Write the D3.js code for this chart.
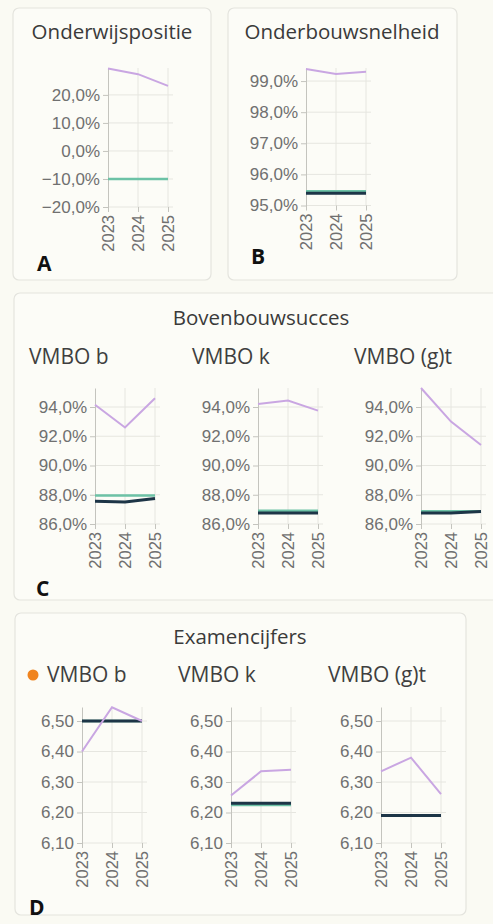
<!DOCTYPE html>
<html>
<head>
<meta charset="utf-8">
<script src="https://cdn.jsdelivr.net/npm/d3@7"></script>
<style>
  html, body { margin: 0; padding: 0; background: #fafaf3; }
  svg { display: block; }
  .card { fill: #fcfcf7; stroke: #e4e4de; stroke-width: 1.2; }
  .title { font-family: "Open Sans", sans-serif; font-size: 20.5px; fill: #3a3a3a; }
  .sub { font-family: "Open Sans", sans-serif; font-size: 21px; fill: #3f3f3f; }
  .letter { font-family: "Open Sans", sans-serif; font-weight: bold; font-size: 21px; fill: #111; }
  .tick text { font-family: "Liberation Sans", Arial, sans-serif; fill: #707070; }
  .grid line { stroke: #e6e6e0; stroke-width: 1; }
</style>
</head>
<body>
<svg id="chart" width="493" height="924"></svg>
<script>
const years = ["2023", "2024", "2025"];

// A - Onderwijspositie (%)
const posSchool = [29.4, 27.4, 23.2];
const posNorm = [-10, -10, -10];
const posTicks = [-20, -10, 0, 10, 20];

// B - Onderbouwsnelheid (%)
const obSchool = [99.39, 99.23, 99.30];
const obBench = [95.46, 95.46, 95.46];
const obNorm = [95.39, 95.39, 95.39];
const obTicks = [95, 96, 97, 98, 99];

// C - Bovenbouwsucces (%)
const bbGroups = ["VMBO b", "VMBO k", "VMBO (g)t"];
const bbSchool = [[94.15, 92.6, 94.6], [94.2, 94.45, 93.75], [95.3, 93.0, 91.4]];
const bbBench = [[87.95, 87.95, 87.95], [86.9, 86.9, 86.9], [86.88, 86.88, 86.88]];
const bbNorm = [[87.55, 87.5, 87.75], [86.75, 86.75, 86.75], [86.75, 86.75, 86.85]];
const bbTicks = [86, 88, 90, 92, 94];

// D - Examencijfers
const exGroups = ["VMBO b", "VMBO k", "VMBO (g)t"];
const exSchool = [[6.40, 6.545, 6.50], [6.256, 6.335, 6.34], [6.335, 6.38, 6.26]];
const exBench = [[6.50, 6.50, 6.50], [6.225, 6.225, 6.225], [6.19, 6.19, 6.19]];
const exNorm = [[6.50, 6.50, 6.50], [6.23, 6.23, 6.23], [6.19, 6.19, 6.19]];
const exTicks = [6.1, 6.2, 6.3, 6.4, 6.5];

const colSchool = "#c9a6e2",
      colBench = "#6cc2a6",
      colNorm = "#1d3547";

const nl = d3.formatLocale({ decimal: ",", thousands: ".", grouping: [3], currency: ["€", ""] });
const fmtPct = d => nl.format(".1f")(d) + "%";
const fmtGrade = nl.format(".2f");

const svg = d3.select("#chart");
svg.append("rect").attr("width", 493).attr("height", 924).attr("fill", "#fafaf3");

// cards
const cards = [
    { x: 13, y: 8, w: 198, h: 272 },
    { x: 228, y: 8, w: 229, h: 272 },
    { x: 14, y: 293, w: 500, h: 307 },
    { x: 15, y: 613, w: 451, h: 302 }
];
svg.selectAll(".card")
    .data(cards)
    .enter()
    .append("rect")
    .attr("class", "card")
    .attr("x", d => d.x).attr("y", d => d.y)
    .attr("width", d => d.w).attr("height", d => d.h)
    .attr("rx", 6);

let text = function (cls, x, y, str, anchor) {
    return svg.append("text")
        .attr("class", cls)
        .attr("x", x).attr("y", y)
        .attr("text-anchor", anchor || "start")
        .text(str);
};

/**
 * Small line chart: one plot with y axis, grid, rotated year labels
 */
let plot = function (opts) {
    const x = d3.scalePoint().domain(years).range([opts.x0, opts.x0 + 60]);
    const y = d3.scaleLinear().domain(opts.domain).range([opts.bottom, opts.top]);
    const g = svg.append("g");

    // grid
    const grid = g.append("g").attr("class", "grid");
    grid.selectAll(".h")
        .data(opts.ticks)
        .enter()
        .append("line")
        .attr("x1", opts.x0).attr("x2", opts.x0 + 65)
        .attr("y1", d => y(d)).attr("y2", d => y(d));
    grid.selectAll(".v")
        .data(years.slice(1))
        .enter()
        .append("line")
        .attr("x1", d => x(d)).attr("x2", d => x(d))
        .attr("y1", opts.top).attr("y2", opts.bottom);

    // y axis
    const yAxis = g.append("g")
        .attr("transform", `translate(${opts.x0},0)`)
        .call(d3.axisLeft(y).tickValues(opts.ticks).tickFormat(opts.format).tickSize(5).tickPadding(3).tickSizeOuter(0));
    yAxis.selectAll(".tick text").style("font-size", "17px");

    // x axis
    const xAxis = g.append("g")
        .attr("transform", `translate(0,${opts.bottom})`)
        .call(d3.axisBottom(x).tickSize(5).tickPadding(3).tickSizeOuter(0));
    xAxis.select(".domain").remove();
    xAxis.selectAll(".tick text")
        .style("font-size", "16.5px")
        .attr("text-anchor", "end")
        .attr("transform", "rotate(-90)")
        .attr("x", -8).attr("y", 0).attr("dy", "0.35em");

    g.selectAll(".domain, .tick line").attr("stroke", "#c4c4be");

    // series
    const line = d3.line().x((d, i) => x(years[i])).y(d => y(d));
    opts.series.forEach(s => {
        g.append("path")
            .datum(s.values)
            .attr("fill", "none")
            .attr("stroke", s.color)
            .attr("stroke-width", s.width)
            .attr("d", line);
    });
};

// A
text("title", 112, 39, "Onderwijspositie", "middle");
plot({ x0: 108, top: 68, bottom: 207, domain: [-20, 29.6], ticks: posTicks, format: fmtPct,
       series: [{ values: posNorm, color: colBench, width: 2.5 }, { values: posSchool, color: colSchool, width: 2 }] });
text("letter", 37, 271, "A");

// B
text("title", 342, 39, "Onderbouwsnelheid", "middle");
plot({ x0: 306, top: 68, bottom: 205.5, domain: [95, 99.42], ticks: obTicks, format: fmtPct,
       series: [{ values: obBench, color: colBench, width: 2.5 }, { values: obNorm, color: colNorm, width: 3 },
                { values: obSchool, color: colSchool, width: 2 }] });
text("letter", 251, 264, "B");

// C
text("title", 261, 325, "Bovenbouwsucces", "middle");
bbGroups.forEach((grp, i) => {
    const x0 = 95 + i * 163;
    text("sub", [29, 192, 354][i], 364, grp);
    plot({ x0: x0, top: 388, bottom: 524, domain: [86, 95.3], ticks: bbTicks, format: fmtPct,
           series: [{ values: bbBench[i], color: colBench, width: 2.5 }, { values: bbNorm[i], color: colNorm, width: 3 },
                    { values: bbSchool[i], color: colSchool, width: 2 }] });
});
text("letter", 36, 596, "C");

// D
text("title", 240, 644, "Examencijfers", "middle");
svg.append("circle").attr("cx", 33).attr("cy", 675).attr("r", 5.5).attr("fill", "#f0841f");
exGroups.forEach((grp, i) => {
    const x0 = [82, 231, 381][i];
    text("sub", [47, 178, 328][i], 682, grp);
    plot({ x0: x0, top: 707, bottom: 843, domain: [6.1, 6.546], ticks: exTicks, format: fmtGrade,
           series: [{ values: exBench[i], color: colBench, width: 2.5 }, { values: exNorm[i], color: colNorm, width: 3 },
                    { values: exSchool[i], color: colSchool, width: 2 }] });
});
text("letter", 29, 915, "D");
</script>
</body>
</html>
